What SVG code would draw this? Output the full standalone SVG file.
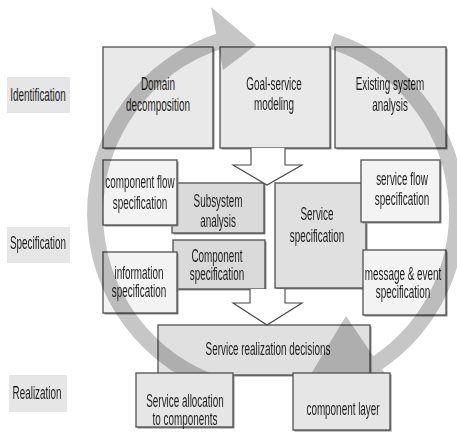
<svg xmlns="http://www.w3.org/2000/svg" width="457" height="440" viewBox="0 0 457 440">
  <style>
    .t { font-family: "Liberation Sans", Arial, sans-serif; font-size: 18.5px; fill: #1c1c1c; text-anchor: middle; }
    .sh { fill: #8a8a8a; }
    .b { stroke: #505050; stroke-width: 1.3; }
    .phase { fill: #e6e6e6; }
    .f1 { fill: #e9e9e9; }
    .f2 { fill: #f3f3f3; }
    .f3 { fill: #dadada; }
    .f4 { fill: #e0e0e0; }
    .f5 { fill: #e6e6e6; }
    .blk { fill: #ffffff; stroke: #454545; stroke-width: 1.1; stroke-linejoin: miter; }
    .band { fill: none; stroke: #c6c6c6; stroke-width: 16; }
    .head { fill: #c6c6c6; }
  </style>

  <!-- phase labels -->
  <g id="phase-identification">
    <rect class="phase" x="7" y="77" width="63" height="36"/>
    <text class="t" transform="translate(38,0) scale(0.535,1)" x="0" y="101.5">Identification</text>
  </g>
  <g id="phase-specification">
    <rect class="phase" x="7" y="227" width="63" height="36"/>
    <text class="t" transform="translate(38,0) scale(0.535,1)" x="0" y="249.5">Specification</text>
  </g>
  <g id="phase-realization">
    <rect class="phase" x="9" y="375" width="58" height="37"/>
    <text class="t" transform="translate(37,0) scale(0.535,1)" x="0" y="399">Realization</text>
  </g>

  <!-- identification row -->
  <g id="domain-decomposition">
    <rect class="sh" x="104.5" y="48.5" width="110" height="101"/>
    <rect class="b f1" x="103" y="47" width="110" height="101"/>
    <text class="t" transform="translate(158,0) scale(0.535,1)"><tspan x="0" y="90">Domain</tspan><tspan x="0" y="111">decomposition</tspan></text>
  </g>
  <g id="goal-service-modeling">
    <rect class="sh" x="221.5" y="48.5" width="110" height="101"/>
    <rect class="b f1" x="220" y="47" width="110" height="101"/>
    <text class="t" transform="translate(274,0) scale(0.535,1)"><tspan x="0" y="90">Goal-service</tspan><tspan x="0" y="110">modeling</tspan></text>
  </g>
  <g id="existing-system-analysis">
    <rect class="sh" x="336.5" y="48.5" width="111" height="101"/>
    <rect class="b f1" x="335" y="47" width="111" height="101"/>
    <text class="t" transform="translate(390,0) scale(0.535,1)"><tspan x="0" y="90">Existing system</tspan><tspan x="0" y="111">analysis</tspan></text>
  </g>

  <!-- specification block -->
  <g id="service-specification">
    <rect class="sh" x="276.5" y="184.5" width="91" height="105"/>
    <rect class="b f4" x="275" y="183" width="91" height="105"/>
    <text class="t" transform="translate(317,0) scale(0.535,1)"><tspan x="0" y="220.5">Service</tspan><tspan x="0" y="242">specification</tspan></text>
  </g>
  <g id="subsystem-analysis">
    <rect class="sh" x="173.5" y="184.5" width="92" height="50"/>
    <rect class="b f3" x="172" y="183" width="92" height="50"/>
    <text class="t" transform="translate(218,0) scale(0.535,1)"><tspan x="0" y="207">Subsystem</tspan><tspan x="0" y="227">analysis</tspan></text>
  </g>
  <g id="component-specification">
    <rect class="sh" x="174.5" y="241.5" width="92" height="49"/>
    <rect class="b f3" x="173" y="240" width="92" height="49"/>
    <text class="t" transform="translate(217,0) scale(0.535,1)"><tspan x="0" y="262">Component</tspan><tspan x="0" y="280">specification</tspan></text>
  </g>
  <g id="component-flow-specification">
    <rect class="sh" x="104.5" y="161.5" width="74" height="65"/>
    <rect class="b f2" x="103" y="160" width="74" height="65"/>
    <text class="t" transform="translate(140,0) scale(0.535,1)"><tspan x="0" y="188">component flow</tspan><tspan x="0" y="209">specification</tspan></text>
  </g>
  <g id="information-specification">
    <rect class="sh" x="104.5" y="253.5" width="74" height="61"/>
    <rect class="b f2" x="103" y="252" width="74" height="61"/>
    <text class="t" transform="translate(139,0) scale(0.535,1)"><tspan x="0" y="279">information</tspan><tspan x="0" y="297">specification</tspan></text>
  </g>
  <g id="service-flow-specification">
    <rect class="sh" x="362.5" y="161.5" width="79" height="62"/>
    <rect class="b f2" x="361" y="160" width="79" height="62"/>
    <text class="t" transform="translate(402,0) scale(0.535,1)"><tspan x="0" y="185">service flow</tspan><tspan x="0" y="205">specification</tspan></text>
  </g>
  <g id="message-event-specification">
    <rect class="sh" x="364.5" y="251.5" width="83" height="65"/>
    <rect class="b f2" x="363" y="250" width="83" height="65"/>
    <text class="t" transform="translate(403,0) scale(0.535,1)"><tspan x="0" y="280">message &amp; event</tspan><tspan x="0" y="298">specification</tspan></text>
  </g>

  <!-- realization decisions -->
  <g id="service-realization-decisions">
    <rect class="sh" x="159.5" y="326.5" width="212" height="50"/>
    <rect class="b f4" x="158" y="325" width="212" height="50"/>
    <text class="t" transform="translate(268,0) scale(0.535,1)" x="0" y="355">Service realization decisions</text>
  </g>

  <!-- phase transitions -->
  <g id="connectors">
    <path class="blk" d="M251,148 V165 H233 L267,185 L302,165 H285 V148"/>
    <path class="blk" d="M250,289 V303 H233 L267,325 L302,303 H285 V289"/>
  </g>

  <!-- iteration cycle drawn over the boxes -->
  <g id="cycle" style="mix-blend-mode:multiply">
    <path class="band" d="M223.1,386.1 A181,181 0 0 1 220.1,40.9"/>
    <polygon class="head" points="211,7 256,45 223,70"/>
    <path class="band" d="M331.9,40.9 A181,181 0 0 1 374.6,364.8"/>
    <polygon class="head" points="346,316 311,374 388,378"/>
  </g>

  <!-- realization outputs -->
  <g id="service-allocation">
    <rect class="sh" x="137.5" y="374.5" width="97" height="54"/>
    <rect class="b f5" x="136" y="373" width="97" height="54"/>
    <text class="t" transform="translate(185,0) scale(0.535,1)"><tspan x="0" y="407">Service allocation</tspan><tspan x="0" y="425">to components</tspan></text>
  </g>
  <g id="component-layer">
    <rect class="sh" x="294.5" y="374.5" width="97" height="57"/>
    <rect class="b f5" x="293" y="373" width="97" height="57"/>
    <text class="t" transform="translate(343,0) scale(0.535,1)" x="0" y="415">component layer</text>
  </g>
</svg>
